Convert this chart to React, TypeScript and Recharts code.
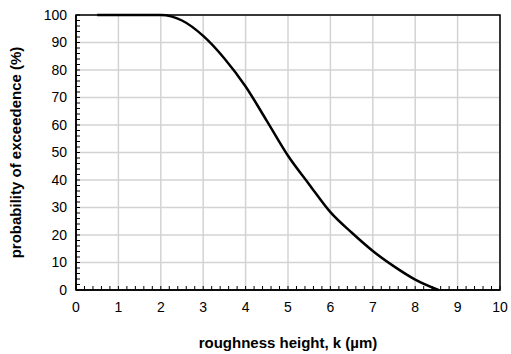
import React from "react";
import {
  LineChart,
  Line,
  XAxis,
  YAxis,
  CartesianGrid,
  ReferenceArea,
} from "recharts";

// roughness height k (um) and probability of exceedence (%)
const roughness = [0.5, 1, 1.5, 2, 2.5, 3, 3.5, 4, 4.5, 5, 5.5, 6, 6.5, 7, 7.5, 8, 8.55];
const exceedence = [100, 100, 100, 100, 98, 92.4, 84.2, 74.0, 61.5, 48.8, 38.4, 28.3, 20.9, 14.2, 8.6, 3.8, 0];

const xTicks = [0, 1, 2, 3, 4, 5, 6, 7, 8, 9, 10];
const yTicks = [0, 10, 20, 30, 40, 50, 60, 70, 80, 90, 100];
// minor ticks: every 0.2 on x, every 2 on y
const xMinorTicks = Array.from({ length: 51 }, (_, i) => +(i * 0.2).toFixed(1));
const yMinorTicks = Array.from({ length: 51 }, (_, i) => i * 2);

const data = roughness.map((k, i) => ({ k, p: exceedence[i] }));

const FONT = "'Liberation Sans', Arial, sans-serif";

// inside tick mark, label only on the whole numbers
function XTick({ x, y, payload }: any) {
  const v = payload.value;
  const major = Math.abs(v - Math.round(v)) < 1e-6;
  return (
    <g>
      <line x1={x} x2={x} y1={y} y2={y - 4} stroke="#000" strokeWidth={1} />
      {major && (
        <text x={x} y={y + 12} dy="0.71em" textAnchor="middle" fontSize={14} fontFamily={FONT} fill="#000">
          {v}
        </text>
      )}
    </g>
  );
}

function YTick({ x, y, payload }: any) {
  const v = payload.value;
  const major = v % 10 === 0;
  return (
    <g>
      <line x1={x} x2={x + 4} y1={y} y2={y} stroke="#000" strokeWidth={1} />
      {major && (
        <text x={x - 9} y={y} dy="0.355em" textAnchor="end" fontSize={14} fontFamily={FONT} fill="#000">
          {v}
        </text>
      )}
    </g>
  );
}

export default function App() {
  return (
    <div style={{ position: "absolute", left: 0, top: 0, background: "#fff" }}>
      <LineChart
        width={511}
        height={354}
        data={data}
        margin={{ top: 15, right: 11, bottom: 0, left: 0 }}
      >
        {/* hidden axes only feed the major gridlines */}
        <XAxis xAxisId="grid" dataKey="k" type="number" domain={[0, 10]} ticks={xTicks} hide />
        <YAxis yAxisId="grid" dataKey="p" type="number" domain={[0, 100]} ticks={yTicks} hide />
        <CartesianGrid xAxisId="grid" yAxisId="grid" stroke="#d3d3d3" strokeWidth={1.5} />
        <XAxis
          dataKey="k"
          type="number"
          domain={[0, 10]}
          ticks={xMinorTicks}
          interval={0}
          height={64}
          tickLine={false}
          tickSize={0}
          tickMargin={0}
          axisLine={{ stroke: "#000", strokeWidth: 1.5 }}
          tick={<XTick />}
          label={{
            value: "roughness height, k (\u00b5m)",
            position: "insideBottom",
            offset: 6,
            style: { fontSize: 15, fontWeight: "bold", fill: "#000", fontFamily: FONT },
          }}
        />
        <YAxis
          dataKey="p"
          type="number"
          domain={[0, 100]}
          ticks={yMinorTicks}
          interval={0}
          width={76}
          tickLine={false}
          tickSize={0}
          tickMargin={0}
          axisLine={{ stroke: "#000", strokeWidth: 1.5 }}
          tick={<YTick />}
          label={{
            value: "probability of exceedence (%)",
            angle: -90,
            position: "insideLeft",
            offset: 16,
            style: { textAnchor: "middle", fontSize: 15, fontWeight: "bold", fill: "#000", fontFamily: FONT },
          }}
        />
        <ReferenceArea
          x1={0}
          x2={10}
          y1={0}
          y2={100}
          fill="none"
          stroke="#000"
          strokeWidth={1.5}
          ifOverflow="visible"
        />
        <Line
          type="monotone"
          dataKey="p"
          stroke="#000"
          strokeWidth={2.5}
          dot={false}
          isAnimationActive={false}
        />
      </LineChart>
    </div>
  );
}
